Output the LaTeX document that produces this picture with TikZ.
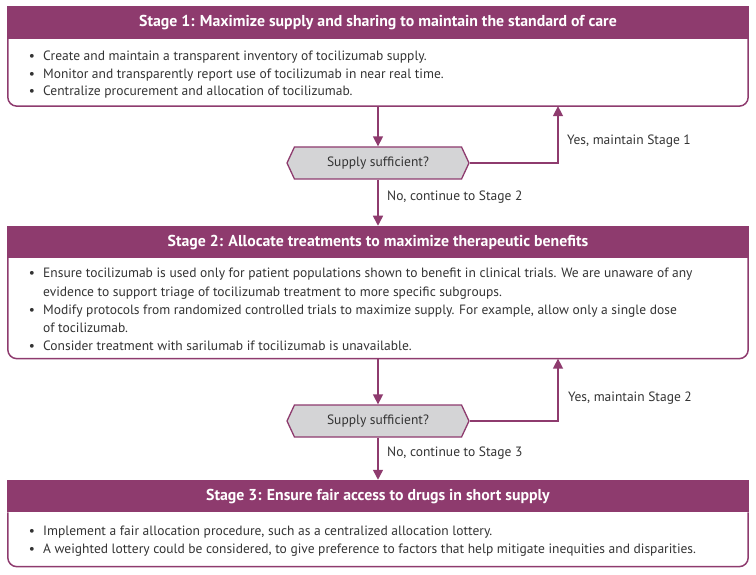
\documentclass[tikz,border=0pt]{standalone}
\usepackage{fontspec}
\setmainfont{PT Sans}
\usetikzlibrary{shapes.symbols,arrows.meta}
\definecolor{plum}{HTML}{8E3B6E}
\definecolor{ink}{HTML}{333333}
\definecolor{hexgray}{HTML}{D4D4D6}
\tikzset{
 hdr/.style={draw=plum, fill=plum, line width=1.5pt, minimum width=740pt, minimum height=31pt, inner sep=0pt, text=white, text height=11.5pt, text depth=3pt, font=\bfseries\fontsize{15.8}{18}\selectfont},
 panel/.style={minimum width=740pt, inner sep=0pt, anchor=north},
 edge/.style={draw=plum, line width=1.5pt, rounded corners=9pt},
 txt/.style={anchor=base west, inner sep=0pt, text=ink, font=\fontsize{13.5}{17}\selectfont},
 bul/.style={txt, anchor=base},
 hexa/.style={signal, signal to=east and west, signal pointer angle=130, draw=plum, fill=hexgray, line width=1.3pt, minimum width=182pt, minimum height=32pt, inner sep=0pt, text=ink, font=\fontsize{13.5}{17}\selectfont},
 arr/.style={draw=plum, line width=1.5pt, -{Triangle[length=10pt,width=10pt]}},
 lbl/.style={anchor=west, inner sep=0pt, text=ink, font=\fontsize{13.5}{17}\selectfont}
}
\begin{document}
\begin{tikzpicture}[x=1pt,y=-1pt]
\useasboundingbox (0,0) rectangle (756,575);
% Stage 1
\node[hdr] (h1) at (378,22.5) {Stage 1: Maximize supply and sharing to maintain the standard of care};
\node[panel, minimum height=67pt] (b1) at (h1.south) {};
\draw[edge] (b1.north east) -- (b1.south east) -- (b1.south west) -- (b1.north west);
\node[bul] (b1p1) at (32,60.5) {•};
\node[txt] (b1t1) at (43,60.5) {Create and maintain a transparent inventory of tocilizumab supply.};
\node[bul] (b1p2) at (32,78.5) {•};
\node[txt] (b1t2) at (43,78.5) {Monitor and transparently report use of tocilizumab in near real time.};
\node[bul] (b1p3) at (32,95.5) {•};
\node[txt] (b1t3) at (43,95.5) {Centralize procurement and allocation of tocilizumab.};
% decision 1
\node[hexa] (d1) at (378,163) {Supply sufficient?};
\node[lbl] (y1) at (567,141) {Yes, maintain Stage 1};
\node[lbl] (n1) at (387,197) {No, continue to Stage 2};
% Stage 2
\node[hdr] (h2) at (378,242) {Stage 2: Allocate treatments to maximize therapeutic benefits};
\node[panel, minimum height=100pt] (b2) at (h2.south) {};
\draw[edge] (b2.north east) -- (b2.south east) -- (b2.south west) -- (b2.north west);
\node[bul] (b2p1) at (32,278) {•};
\node[txt] (b2t1) at (43,278) {Ensure tocilizumab is used only for patient populations shown to benefit in clinical trials. We are unaware of any};
\node[txt] (b2t1b) at (43,296) {evidence to support triage of tocilizumab treatment to more specific subgroups.};
\node[bul] (b2p2) at (32,314.5) {•};
\node[txt] (b2t2) at (43,314.5) {Modify protocols from randomized controlled trials to maximize supply. For example, allow only a single dose};
\node[txt] (b2t2b) at (43,332) {of tocilizumab.};
\node[bul] (b2p3) at (32,350.5) {•};
\node[txt] (b2t3) at (43,350.5) {Consider treatment with sarilumab if tocilizumab is unavailable.};
% decision 2
\node[hexa] (d2) at (378,421) {Supply sufficient?};
\node[lbl] (y2) at (568,398) {Yes, maintain Stage 2};
\node[lbl] (n2) at (387,453) {No, continue to Stage 3};
% Stage 3
\node[hdr] (h3) at (378,496) {Stage 3: Ensure fair access to drugs in short supply};
\node[panel, minimum height=54pt] (b3) at (h3.south) {};
\draw[edge] (b3.north east) -- (b3.south east) -- (b3.south west) -- (b3.north west);
\node[bul] (b3p1) at (32,535) {•};
\node[txt] (b3t1) at (43,535) {Implement a fair allocation procedure, such as a centralized allocation lottery.};
\node[bul] (b3p2) at (32,553) {•};
\node[txt] (b3t2) at (43,553) {A weighted lottery could be considered, to give preference to factors that help mitigate inequities and disparities.};
% connectors
\draw[arr] (b1.south) -- (d1.north);
\draw[arr] (d1.east) -| ([xshift=180pt]b1.south);
\draw[arr] (d1.south) -- (h2.north);
\draw[arr] (b2.south) -- (d2.north);
\draw[arr] (d2.east) -| ([xshift=180pt]b2.south);
\draw[arr] (d2.south) -- (h3.north);
\end{tikzpicture}
\end{document}
